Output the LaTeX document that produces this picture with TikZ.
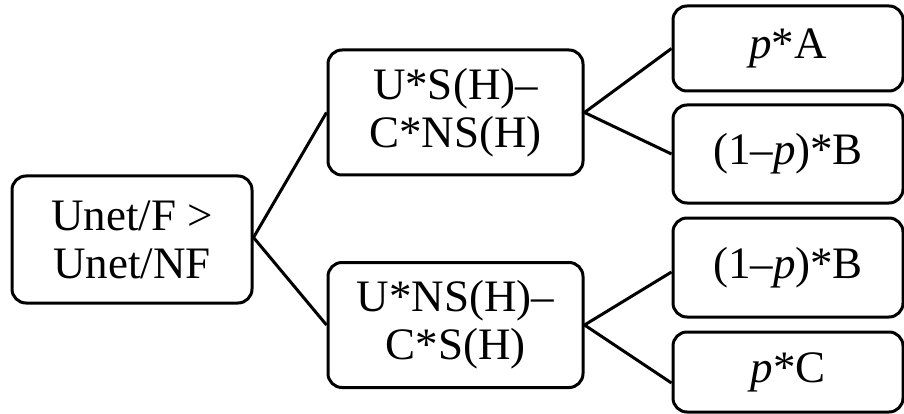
\documentclass[tikz,border=0pt]{standalone}
\usepackage{fontspec}
\setmainfont{Liberation Serif}
\begin{document}
\begin{tikzpicture}[x=1pt,y=-1pt,
  box/.style={draw=black, line width=3pt, rounded corners=14pt, align=center,
    inner sep=0pt, font=\fontsize{45}{48}\selectfont},
  midbox/.style={box, minimum width=255pt, minimum height=125pt},
  leafbox/.style={box, minimum width=230pt},
  link/.style={draw=black, line width=3pt}]
\useasboundingbox (0,0) rectangle (904,414);

% root decision
\node[box, minimum width=240pt, minimum height=127pt] (root) at (132,239.5)
  {Unet/F >\\Unet/NF};

% second level
\node[midbox] (mt) at (455.5,112.5) {U*S(H)–\\C*NS(H)};
\node[midbox] (mb) at (455.5,325) {U*NS(H)–\\C*S(H)};

% outcomes
\node[leafbox, minimum height=85pt] (r1) at (788,48.5) {\textit{p}*A};
\node[leafbox, minimum height=98pt] (r2) at (788,154) {(1–\textit{p})*B};
\node[leafbox, minimum height=99pt] (r3) at (788,267.5) {(1–\textit{p})*B};
\node[leafbox, minimum height=80pt] (r4) at (788,372) {\textit{p}*C};

% branches
\draw[link] (mt.west) -- ([yshift=2pt]root.east) -- (mb.west);
\draw[link] (r1.west) -- (mt.east) -- (r2.west);
\draw[link] ([yshift=-4.5pt]r3.west) -- (mb.east) -- ([yshift=-11pt]r4.west);
\end{tikzpicture}
\end{document}
